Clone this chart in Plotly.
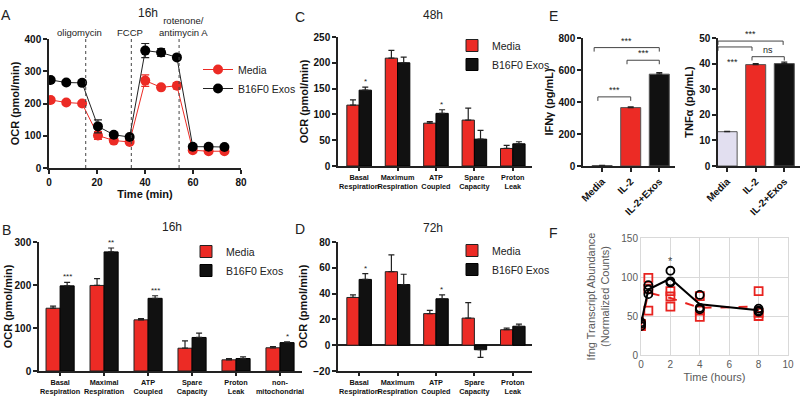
import plotly.graph_objects as go

FONT = "Liberation Sans"
RED = "#ec2b25"
BLK = "#111111"

# ---------------- Panel A data (16h Seahorse trace) ----------------
a_time = [0.7, 7.2, 13.8, 20.4, 27.0, 33.6, 40.1, 46.7, 53.3, 59.9, 66.5, 73.1]
a_media = [211, 203, 200, 101, 85, 81, 271, 250, 255, 55, 52, 52]
a_media_err = [6, 5, 5, 12, 6, 5, 18, 6, 10, 4, 3, 3]
a_exos = [273, 265, 264, 129, 103, 96, 364, 358, 343, 66, 66, 65]
a_exos_err = [6, 5, 5, 20, 6, 5, 22, 12, 6, 4, 3, 3]
a_inj_time = [15.3, 34.3, 54.2]
a_inj_label = ["oligomycin", "FCCP", "rotenone/<br>antimycin A"]
a_inj_shift = [-6, -1, 4]

# ---------------- Panel B data (16h) ----------------
b_cats = ["Basal<br>Respiration", "Maximal<br>Respiration", "ATP<br>Coupled",
          "Spare<br>Capacity", "Proton<br>Leak", "non-<br>mitochondrial"]
b_media = [146, 199, 119, 53, 26, 54]
b_media_err = [5, 16, 3, 17, 3, 3]
b_exos = [198, 277, 169, 78, 29, 66]
b_exos_err = [8, 9, 6, 10, 4, 2]
b_sig = ["***", "**", "***", "", "", "*"]

# ---------------- Panel C data (48h) ----------------
c_cats = ["Basal<br>Respiration", "Maximum<br>Respiration", "ATP<br>Coupled",
          "Spare<br>Capacity", "Proton<br>Leak"]
c_media = [118, 209, 83, 89, 34]
c_media_err = [10, 15, 3, 23, 6]
c_exos = [147, 200, 102, 52, 43]
c_exos_err = [6, 11, 7, 17, 4]
c_sig = ["*", "", "*", "", ""]

# ---------------- Panel D data (72h) ----------------
d_cats = c_cats
d_media = [37, 57, 24.5, 21, 12]
d_media_err = [2, 13, 2.5, 12, 1.2]
d_exos = [51, 47, 36, -3.5, 14.7]
d_exos_err = [4.5, 8, 3, 6, 1.7]
d_sig = ["*", "", "*", "", ""]

# ---------------- Panel E data ----------------
e_cats = ["Media", "IL-2", "IL-2+Exos"]
e_ifng = [3, 365, 574]
e_ifng_err = [1, 4, 10]
e_tnf = [13.4, 39.6, 40.0]
e_tnf_err = [0.1, 0.4, 0.6]
e_colors = ["#e2dff0", RED, BLK]

# ---------------- Panel F data ----------------
f_time = [0, 0.5, 2, 4, 8]
f_pts_time = [0, 0, 0, 0.5, 0.5, 0.5, 2, 2, 2, 4, 4, 4, 8, 8, 8]
f_exos_pts = [37, 40, 42, 89.5, 84, 78, 108, 94.5, 93, 77, 60.5, 58.5, 59.5, 57, 55.5]
f_exos_mean = [40, 84, 98, 65, 57.5]
f_media_pts = [37, 38, 40, 99, 85, 57, 82, 75, 62, 75.5, 57, 49, 82, 54, 50]
f_media_mean = [38, 80, 73, 60.5, 62]
f_star_time = 2
f_star_y = 120


def dom_x(p0, p1):
    return [p0 / 800, p1 / 800]


def dom_y(top, bottom):
    return [1 - bottom / 400, 1 - top / 400]


def up_err(vals, errs):
    plus = [e if v >= 0 else 0 for v, e in zip(vals, errs)]
    minus = [0 if v >= 0 else e for v, e in zip(vals, errs)]
    return dict(type="data", array=plus, arrayminus=minus, symmetric=False,
                color="#222", thickness=1.2, width=3)


fig = go.Figure()

# ---- A ----
fig.add_trace(go.Scatter(x=a_time, y=a_media, name="Media", mode="lines+markers",
                         line=dict(color=RED, width=1),
                         marker=dict(color=RED, size=10),
                         error_y=dict(type="data", array=a_media_err, color=RED, thickness=1.2, width=4),
                         xaxis="x", yaxis="y", legend="legend"))
fig.add_trace(go.Scatter(x=a_time, y=a_exos, name="B16F0 Exos", mode="lines+markers",
                         line=dict(color="#222", width=1),
                         marker=dict(color="#000", size=10),
                         error_y=dict(type="data", array=a_exos_err, color="#222", thickness=1.2, width=4),
                         xaxis="x", yaxis="y", legend="legend"))

# ---- B, C, D ----
bar_sets = [
    ("x2", "y2", "legend2", b_cats, b_media, b_media_err, b_exos, b_exos_err),
    ("x3", "y3", "legend3", c_cats, c_media, c_media_err, c_exos, c_exos_err),
    ("x4", "y4", "legend4", d_cats, d_media, d_media_err, d_exos, d_exos_err),
]
for xa, ya, lg, cats, m, me, ex, exe in bar_sets:
    fig.add_trace(go.Bar(x=cats, y=m, name="Media", marker=dict(color=RED, line=dict(color="#222", width=1)),
                         error_y=up_err(m, me), xaxis=xa, yaxis=ya, legend=lg))
    fig.add_trace(go.Bar(x=cats, y=ex, name="B16F0 Exos", marker=dict(color=BLK, line=dict(color="#000", width=1)),
                         error_y=up_err(ex, exe), xaxis=xa, yaxis=ya, legend=lg))

# ---- E ----
fig.add_trace(go.Bar(x=e_cats, y=e_ifng, marker=dict(color=e_colors, line=dict(color="#555", width=1)),
                     width=0.7, error_y=up_err(e_ifng, e_ifng_err), showlegend=False,
                     xaxis="x5", yaxis="y5"))
fig.add_trace(go.Bar(x=e_cats, y=e_tnf, marker=dict(color=e_colors, line=dict(color="#555", width=1)),
                     width=0.7, error_y=up_err(e_tnf, e_tnf_err), showlegend=False,
                     xaxis="x6", yaxis="y6"))

# ---- F ----
FRED = "#e8231f"
fig.add_trace(go.Scatter(x=f_time, y=f_media_mean, mode="lines", line=dict(color=FRED, width=2, dash="dash"),
                         showlegend=False, xaxis="x7", yaxis="y7"))
fig.add_trace(go.Scatter(x=f_pts_time, y=f_media_pts, mode="markers",
                         marker=dict(symbol="square-open", size=8, color=FRED, line=dict(width=1.8)),
                         showlegend=False, xaxis="x7", yaxis="y7"))
fig.add_trace(go.Scatter(x=f_time, y=f_exos_mean, mode="lines", line=dict(color="#000", width=2),
                         showlegend=False, xaxis="x7", yaxis="y7"))
fig.add_trace(go.Scatter(x=f_pts_time, y=f_exos_pts, mode="markers",
                         marker=dict(symbol="circle-open", size=8, color="#000", line=dict(width=1.8)),
                         showlegend=False, xaxis="x7", yaxis="y7"))

tick_bold = dict(family=FONT, size=10, color="#111", weight="bold")
title_bold = dict(family=FONT, size=11, color="#111", weight="bold")
cat_font = dict(family=FONT, size=7.3, color="#111", weight="bold")


def ax(**kw):
    base = dict(showline=True, linecolor="#222", linewidth=1.5, ticks="outside", ticklen=4,
                tickwidth=1.5, tickcolor="#222", showgrid=False, zeroline=False,
                tickfont=tick_bold, automargin=False)
    base.update(kw)
    return base


def ytitle(text, standoff=3):
    return dict(text=text, font=title_bold, standoff=standoff)


layout = dict(
    width=800, height=400, margin=dict(l=0, r=0, t=0, b=0),
    paper_bgcolor="white", plot_bgcolor="white",
    barmode="group", bargap=0.36, bargroupgap=0,
    font=dict(family=FONT, color="#111"),
    xaxis=ax(domain=dom_x(49, 241), range=[0, 80], dtick=20, anchor="y",
             title=dict(text="Time (min)", font=title_bold, standoff=3)),
    yaxis=ax(domain=dom_y(39, 168), range=[0, 400], dtick=100, anchor="x",
             title=ytitle("OCR (pmol/min)")),
    xaxis2=ax(domain=dom_x(39, 302), range=[-0.48, 5.5], type="category", anchor="y2",
              tickfont=cat_font, ticklen=3, tickangle=0),
    yaxis2=ax(domain=dom_y(242, 371), range=[0, 300], dtick=100, anchor="x2",
              title=ytitle("OCR (pmol/min)", 0)),
    xaxis3=ax(domain=dom_x(338, 532), range=[-0.55, 4.5], type="category", anchor="y3",
              tickfont=cat_font, ticklen=3, tickangle=0),
    yaxis3=ax(domain=dom_y(37, 166), range=[0, 250], dtick=50, anchor="x3",
              title=ytitle("OCR (pmol/min)")),
    xaxis4=ax(domain=dom_x(338, 532), range=[-0.55, 4.5], type="category", anchor="y4",
              tickfont=cat_font, ticklen=3, tickangle=0),
    yaxis4=ax(domain=dom_y(242, 371), range=[-20, 80], dtick=20, anchor="x4",
              zeroline=True, zerolinecolor="#222", zerolinewidth=1.5,
              title=ytitle("OCR (pmol/min)")),
    xaxis5=ax(domain=dom_x(583, 675), range=[-0.67, 2.55], type="category", anchor="y5",
              tickangle=-45),
    yaxis5=ax(domain=dom_y(38, 166), range=[0, 800], dtick=200, anchor="x5",
              title=ytitle("IFNγ (pg/mL)")),
    xaxis6=ax(domain=dom_x(718, 800), range=[-0.32, 2.55], type="category", anchor="y6",
              tickangle=-45),
    yaxis6=ax(domain=dom_y(38, 166), range=[0, 50], dtick=10, anchor="x6",
              title=ytitle("TNFα (pg/mL)")),
    xaxis7=dict(domain=dom_x(641, 788), range=[0, 10], dtick=2, anchor="y7", showgrid=True,
                gridcolor="#d9d9d9", gridwidth=1, showline=True, linecolor="#d9d9d9", mirror=True,
                zeroline=False, ticks="", automargin=False,
                tickfont=dict(family=FONT, size=10, color="#595959"),
                title=dict(text="Time (hours)", font=dict(family=FONT, size=11, color="#595959"), standoff=4)),
    yaxis7=dict(domain=dom_y(238, 355), range=[0, 150], dtick=50, anchor="x7", showgrid=True,
                gridcolor="#d9d9d9", gridwidth=1, showline=True, linecolor="#d9d9d9", mirror=True,
                zeroline=False, ticks="", automargin=False,
                tickfont=dict(family=FONT, size=10, color="#595959"),
                title=dict(text="Ifng Transcript Abundance<br>(Normalized Counts)",
                           font=dict(family=FONT, size=11, color="#595959"), standoff=9)),
)

leg_common = dict(xanchor="left", yanchor="top", bgcolor="rgba(0,0,0,0)", tracegroupgap=0,
                  font=dict(family=FONT, size=10.5, color="#222"), itemclick=False)
layout["legend"] = dict(x=198 / 800, y=1 - 55 / 400, **leg_common)
layout["legend2"] = dict(x=186 / 800, y=1 - 237 / 400, **leg_common)
layout["legend3"] = dict(x=452 / 800, y=1 - 31 / 400, **leg_common)
layout["legend4"] = dict(x=452 / 800, y=1 - 236 / 400, **leg_common)
fig.update_layout(**layout)

ann = []
shapes = []

# panel letters and titles
for letter, xp, yp in [("A", 6, 15), ("B", 6, 230), ("C", 300, 17), ("D", 300, 229), ("E", 553, 16), ("F", 553, 233)]:
    ann.append(dict(text=letter, x=xp / 800, y=1 - yp / 400, xref="paper", yref="paper",
                    showarrow=False, xanchor="center", yanchor="middle",
                    font=dict(family=FONT, size=14, color="#222")))
for title, xp, yp in [("16h", 148, 13), ("16h", 172, 227), ("48h", 433, 15), ("72h", 433, 228)]:
    ann.append(dict(text=title, x=xp / 800, y=1 - yp / 400, xref="paper", yref="paper",
                    showarrow=False, xanchor="center", yanchor="middle",
                    font=dict(family=FONT, size=12, color="#222")))

# Panel A injections
for t, lab, sh in zip(a_inj_time, a_inj_label, a_inj_shift):
    shapes.append(dict(type="line", xref="x", yref="y domain", x0=t, x1=t, y0=0, y1=1,
                       line=dict(color="#444", width=1, dash="dot")))
    ann.append(dict(text=lab, x=t, y=1 - 40 / 400, xref="x", yref="paper", showarrow=False,
                    xanchor="center", yanchor="bottom", xshift=sh,
                    font=dict(family=FONT, size=9.5, color="#222")))

# significance stars on bar panels
for xa, ya, sig, vals, errs, shift in [("x2", "y2", b_sig, b_exos, b_exos_err, 7),
                                         ("x3", "y3", c_sig, c_exos, c_exos_err, 6),
                                         ("x4", "y4", d_sig, d_exos, d_exos_err, 6)]:
    for i, s in enumerate(sig):
        if s:
            ann.append(dict(text=s, x=i, y=vals[i] + errs[i], xref=xa, yref=ya, showarrow=False,
                            xanchor="center", yanchor="bottom", xshift=shift, yshift=-1,
                            font=dict(family=FONT, size=8, color="#222")))

# Panel E brackets: (x0, x1, y, text, text_x, text_y)
e1_brackets = [(-0.15, 1.0, 432, "***", 0.43, 432), (0.87, 2.0, 661, "***", 1.43, 661),
               (-0.28, 2.0, 740, "***", 0.86, 740)]
e2_brackets = [(-0.32, 1.96, 48.8, "***", 0.82, 48.8), (-0.32, 0.87, 46.5, "***", 0.2, 43.2),
               (0.87, 2.0, 42.7, "ns", 1.43, 42.7)]
for xa, ya, brs, tick in [("x5", "y5", e1_brackets, 25), ("x6", "y6", e2_brackets, 1.5)]:
    for x0, x1, y, txt, tx, ty in brs:
        ln = dict(color="#444", width=1)
        shapes.append(dict(type="line", xref=xa, yref=ya, x0=x0, x1=x1, y0=y, y1=y, line=ln))
        shapes.append(dict(type="line", xref=xa, yref=ya, x0=x0, x1=x0, y0=y, y1=y - tick, line=ln))
        shapes.append(dict(type="line", xref=xa, yref=ya, x0=x1, x1=x1, y0=y, y1=y - tick, line=ln))
        ann.append(dict(text=txt, x=tx, y=ty, xref=xa, yref=ya, showarrow=False,
                        xanchor="center", yanchor="bottom" if ty >= y else "top",
                        font=dict(family=FONT, size=9, color="#222")))

# Panel F star
ann.append(dict(text="*", x=f_star_time, y=f_star_y, xref="x7", yref="y7", showarrow=False,
                xanchor="center", yanchor="middle", font=dict(family=FONT, size=11, color="#444")))

fig.update_layout(annotations=ann, shapes=shapes)
fig.write_html("out.html", config={"displayModeBar": False},
               post_script="document.body.style.margin='0';document.body.style.overflow='hidden';")
